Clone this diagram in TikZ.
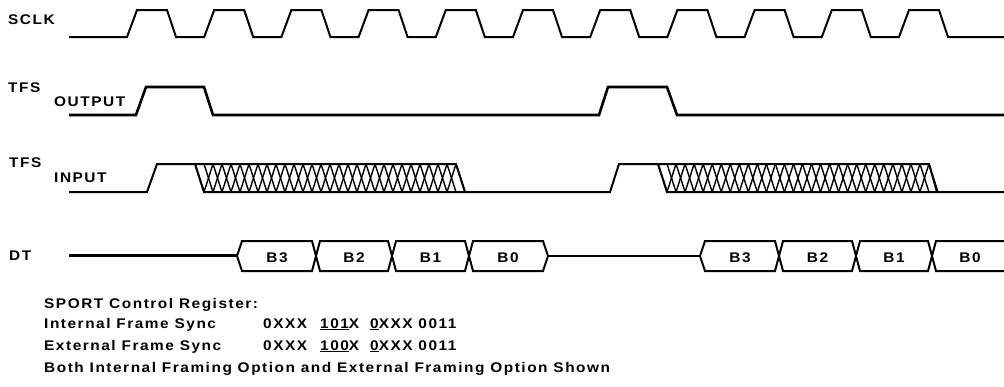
\documentclass[tikz,border=0pt]{standalone}
\usepackage{fontspec}
\setmainfont{Liberation Sans}[LetterSpace=11,FakeStretch=1.1]
\newcommand{\dgfont}{\fontsize{14}{16}\selectfont\bfseries}
\begin{document}
\begin{tikzpicture}[x=1pt,y=-1pt,
  sig/.style={line width=2pt, line join=miter},
  sigthick/.style={line width=2.6pt, line join=miter},
  thin/.style={line width=1.5pt},
  hatch/.style={line width=1.4pt},
  lbl/.style={inner sep=0pt, anchor=base west, font=\dgfont},
  blbl/.style={inner sep=0pt, anchor=base, font=\dgfont}]
\useasboundingbox (0,0) rectangle (1004,386);

% labels
\node[lbl] (sclk) at (8,24) {SCLK};
\node[lbl] (tfso) at (8,92) {TFS};
\node[lbl] (outp) at (54,106) {OUTPUT};
\node[lbl] (tfsi) at (9,167) {TFS};
\node[lbl] (inp) at (54,182) {INPUT};
\node[lbl] (dt) at (9,260) {DT};

% SCLK
\draw[sig] (69,37) foreach \k in {0,...,10} {
  -- ({127+77.2*\k},37) -- ({137+77.2*\k},10) -- ({167+77.2*\k},10) -- ({176+77.2*\k},37) } -- (1004,37);

% TFS output
\draw[sigthick] (69,115) -- (136,115) -- (146,87) -- (204,87) -- (213,115) -- (599,115)
  -- (608,87) -- (667,87) -- (677,115) -- (1004,115);

% TFS input
\draw[sig] (69,192) -- (147,192) -- (157,164) -- (456,164) -- (465,192) -- (610,192)
  -- (619,164) -- (929,164) -- (937,192) -- (1004,192);
\draw[sig] (195,164) -- (204,192) -- (465,192);
\draw[sig] (658,164) -- (667,192) -- (937,192);
\foreach \k in {0,...,29} \draw[hatch] ({195+9*\k},164) -- ({204+9*\k},192);
\foreach \k in {0,...,27} \draw[hatch] ({204+9*\k},192) -- ({213+9*\k},164);
\foreach \k in {0,...,30} \draw[hatch] ({658+9.0333*\k},164) -- ({667+9.0333*\k},192);
\foreach \k in {0,...,28} \draw[hatch] ({667+9.0333*\k},192) -- ({676+9.0333*\k},164);

% DT
\draw[sigthick] (69,255.5) -- (237,255.5);
\draw[sig] (237,256) -- (242,241) -- (312,241) -- (320,271) -- (388,271) -- (396,241) -- (465,241)
  -- (473,271) -- (543,271) -- (548,256) -- (543,241) -- (473,241) -- (465,271) -- (396,271)
  -- (388,241) -- (320,241) -- (312,271) -- (242,271) -- cycle;
\draw[thin] (548,256) -- (700,256);
\draw[sig] (1004,241) -- (936,241) -- (928,271) -- (860,271) -- (852,241) -- (783,241) -- (775,271)
  -- (705,271) -- (700,256) -- (705,241) -- (775,241) -- (783,271) -- (852,271) -- (860,241)
  -- (928,241) -- (936,271) -- (1004,271);

\node[blbl] (b3a) at (277,262) {B3};
\node[blbl] (b2a) at (354,262) {B2};
\node[blbl] (b1a) at (430.5,262) {B1};
\node[blbl] (b0a) at (508,262) {B0};
\node[blbl] (b3b) at (740,262) {B3};
\node[blbl] (b2b) at (817.5,262) {B2};
\node[blbl] (b1b) at (894,262) {B1};
\node[blbl] (b0b) at (970,262) {B0};

% register text
\node[lbl] (sport) at (44,308) {SPORT Control Register:};
\node[lbl] (ifs) at (44,328) {Internal Frame Sync};
\node[lbl] (ifs1) at (263,328) {0XXX};
\node[lbl] (ifs2) at (320,328) {\underline{101}X};
\node[lbl] (ifs3) at (370,328) {\underline{0}XXX 0011};
\node[lbl] (efs) at (44,350) {External Frame Sync};
\node[lbl] (efs1) at (263,350) {0XXX};
\node[lbl] (efs2) at (320,350) {\underline{100}X};
\node[lbl] (efs3) at (370,350) {\underline{0}XXX 0011};
\node[lbl] (both) at (44,372) {Both Internal Framing Option and External Framing Option Shown};
\end{tikzpicture}
\end{document}
